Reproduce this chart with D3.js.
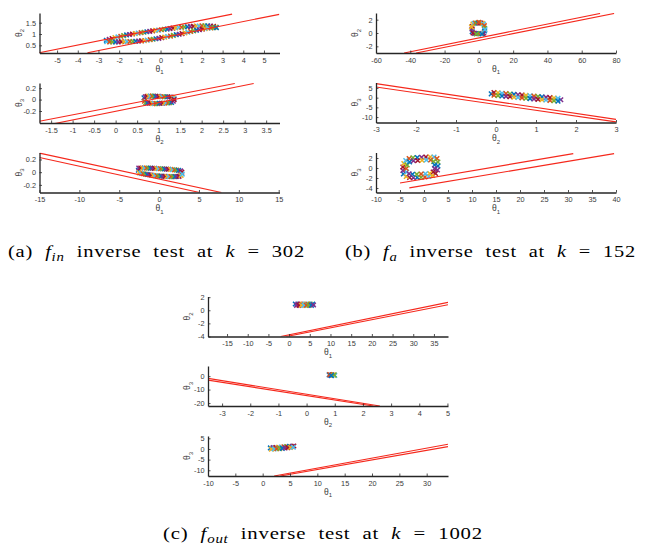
<!DOCTYPE html>
<html><head><meta charset="utf-8">
<script src="https://cdn.jsdelivr.net/npm/d3@7"></script>
<style>body{margin:0;background:#fff}svg{display:block}</style></head>
<body><svg id="c" width="654" height="549"></svg>
<script>
// ---------- DATA ----------
// (a) f_in, panel 1: theta1 vs theta2
const xDomA1 = [-5.85, 5.75], yDomA1 = [0.16, 1.93];
const xTicksA1 = [-5,-4,-3,-2,-1,0,1,2,3,4,5], yTicksA1 = [0.5,1,1.5];
const linesA1 = [[[-5.87,0.17],[3.46,1.88]], [[-3.53,0.17],[5.74,1.87]]];
const ptsA1 = [
 [-2.62,0.72],[-2.48,0.76],[-2.34,0.80],[-2.2,0.84],[-2.06,0.87],[-1.92,0.90],[-1.78,0.93],[-1.64,0.96],[-1.5,0.98],[-1.36,1.00],
 [-1.22,1.02],[-1.08,1.04],[-0.94,1.06],[-0.8,1.08],[-0.66,1.10],[-0.52,1.12],[-0.38,1.14],[-0.24,1.16],[-0.1,1.17],[0.04,1.19],
 [0.18,1.21],[0.32,1.22],[0.46,1.24],[0.6,1.26],[0.74,1.27],[0.88,1.29],[1.02,1.30],[1.16,1.31],[1.3,1.32],[1.44,1.33],
 [1.58,1.34],[1.72,1.35],[1.86,1.35],[2.0,1.36],[2.14,1.36],[2.28,1.36],[2.42,1.35],[2.56,1.34],[2.68,1.31],
 [-2.6,0.66],[-2.46,0.65],[-2.32,0.65],[-2.18,0.65],[-2.04,0.65],[-1.9,0.66],[-1.76,0.66],[-1.62,0.66],[-1.48,0.67],[-1.34,0.67],
 [-1.2,0.68],[-1.06,0.69],[-0.92,0.70],[-0.78,0.71],[-0.64,0.73],[-0.5,0.75],[-0.36,0.77],[-0.22,0.79],[-0.08,0.81],[0.06,0.84],
 [0.2,0.86],[0.34,0.89],[0.48,0.91],[0.62,0.94],[0.76,0.97],[0.9,0.99],[1.04,1.02],[1.18,1.05],[1.32,1.08],[1.46,1.11],
 [1.6,1.14],[1.74,1.17],[1.88,1.19],[2.02,1.22],[2.16,1.24],[2.3,1.26],[2.44,1.27],[2.58,1.28],[2.7,1.28]
];
// (a) panel 2: theta2 vs theta3
const xDomA2 = [-1.77, 3.81], yDomA2 = [-0.41, 0.29];
const xTicksA2 = [-1.5,-1,-0.5,0,0.5,1,1.5,2,2.5,3,3.5], yTicksA2 = [-0.2,0,0.2];
const linesA2 = [[[-1.77,-0.38],[2.77,0.28]], [[-1.55,-0.44],[3.21,0.28]]];
const ptsA2 = [
 [0.66,0.03],[0.69,0.05],[0.73,0.055],[0.77,0.06],[0.81,0.06],[0.85,0.06],[0.89,0.06],[0.93,0.055],[0.97,0.055],[1.01,0.055],
 [1.05,0.05],[1.09,0.05],[1.13,0.05],[1.17,0.05],[1.21,0.05],[1.25,0.045],[1.29,0.045],[1.33,0.035],[1.36,0.02],
 [0.67,-0.03],[0.7,-0.055],[0.74,-0.06],[0.78,-0.065],[0.82,-0.065],[0.86,-0.07],[0.9,-0.07],[0.94,-0.07],[0.98,-0.07],[1.02,-0.065],
 [1.06,-0.065],[1.1,-0.065],[1.14,-0.06],[1.18,-0.06],[1.22,-0.06],[1.26,-0.055],[1.3,-0.05],[1.34,-0.03],[1.36,0.0]
];
// (a) panel 3: theta1 vs theta3
const xDomA3 = [-15, 15.1], yDomA3 = [-0.32, 0.31];
const xTicksA3 = [-15,-10,-5,0,5,10,15], yTicksA3 = [-0.2,0,0.2];
const linesA3 = [[[-15,0.30],[7.82,-0.32]], [[-15,0.23],[5.09,-0.32]]];
const ptsA3 = [
 [-2.6,0.03],
 [-2.55,0.065],[-2.3,0.066],[-2.05,0.066],[-1.8,0.066],[-1.55,0.065],[-1.3,0.064],[-1.05,0.063],[-0.8,0.062],[-0.55,0.06],[-0.3,0.058],
 [-0.05,0.056],[0.2,0.054],[0.45,0.052],[0.7,0.05],[0.95,0.048],[1.2,0.046],[1.45,0.043],[1.7,0.04],[1.95,0.037],[2.2,0.033],
 [2.45,0.028],[2.7,0.02],[2.85,0.0],
 [-2.5,-0.01],[-2.25,-0.02],[-2.0,-0.025],[-1.75,-0.03],[-1.5,-0.035],[-1.25,-0.04],[-1.0,-0.045],[-0.75,-0.05],[-0.5,-0.053],[-0.25,-0.056],
 [0.0,-0.06],[0.25,-0.062],[0.5,-0.064],[0.75,-0.066],[1.0,-0.068],[1.25,-0.07],[1.5,-0.07],[1.75,-0.07],[2.0,-0.07],[2.25,-0.068],
 [2.5,-0.065],[2.75,-0.05],[2.9,-0.03]
];
// (b) f_a, panel 1
const xDomB1 = [-60, 80], yDomB1 = [-3, 3];
const xTicksB1 = [-60,-40,-20,0,20,40,60,80], yTicksB1 = [-2,0,2];
const linesB1 = [[[-43.6,-3],[70.7,2.93]], [[-36.6,-3],[78.9,2.93]]];
const ptsB1 = [
 [-3.9,0.2],[-4.0,0.6],[-3.9,1.0],[-3.5,1.35],[-2.8,1.45],[-2.0,1.5],[-1.2,1.5],[-0.4,1.5],[0.4,1.5],[1.2,1.5],
 [2.0,1.45],[2.7,1.35],[3.2,1.1],[3.4,0.7],[3.3,0.3],[2.9,0.0],[2.2,-0.07],[1.4,-0.08],[0.6,-0.08],[-0.2,-0.08],
 [-1.0,-0.08],[-1.8,-0.07],[-2.6,-0.05],[-3.4,0.0],[-4.3,0.9],[3.6,0.5],[0.0,1.6],[-1.5,-0.15],[1.8,-0.15]
];
// (b) panel 2
const xDomB2 = [-3, 3], yDomB2 = [-12.8, 7.8];
const xTicksB2 = [-3,-2,-1,0,1,2,3], yTicksB2 = [-10,-5,0,5];
const linesB2 = [[[-3,7.2],[3,-11.2]], [[-3,5.5],[3,-12.5]]];
const ptsB2 = [
 [-0.12,1.95],[1.62,-1.1],
 [-0.05,2.65],[0.05,2.46],[0.15,2.27],[0.25,2.08],[0.35,1.89],[0.45,1.7],[0.55,1.51],[0.65,1.32],[0.75,1.13],
 [0.85,0.94],[0.95,0.75],[1.05,0.56],[1.15,0.37],[1.25,0.18],[1.35,-0.02],[1.45,-0.21],[1.55,-0.4],
 [-0.05,1.25],[0.05,1.06],[0.15,0.87],[0.25,0.68],[0.35,0.49],[0.45,0.3],[0.55,0.11],[0.65,-0.09],[0.75,-0.28],
 [0.85,-0.47],[0.95,-0.66],[1.05,-0.85],[1.15,-1.04],[1.25,-1.23],[1.35,-1.42],[1.45,-1.61],[1.55,-1.8]
];
// (b) panel 3
const xDomB3 = [-10, 40], yDomB3 = [-4.9, 3.1];
const xTicksB3 = [-10,-5,0,5,10,15,20,25,30,35,40], yTicksB3 = [-4,-2,0,2];
const linesB3 = [[[-5,-3.0],[31.1,2.88]], [[-3.06,-3.98],[39.6,2.88]]];
const ptsB3 = [
 [-4.3,-1.2],[-4.4,-0.5],[-4.4,0.2],[-4.2,0.9],[-3.8,1.5],[-3.1,1.9],[-2.3,2.05],[-1.4,2.1],[-0.5,2.15],[0.4,2.2],
 [1.3,2.2],[2.1,2.2],[2.7,1.9],[2.9,1.2],[2.9,0.4],[2.8,-0.4],[2.4,-1.1],[1.8,-1.5],[1.0,-1.7],[0.2,-1.8],
 [-0.6,-1.85],[-1.4,-1.9],[-2.2,-1.95],[-3.0,-1.9],[-3.7,-1.7],
 [-3.6,-0.8],[-3.7,-0.1],[-3.5,0.6],[-3.0,1.2],[-2.2,1.45],[-1.3,1.5],[-0.4,1.55],[0.5,1.6],[1.4,1.6],[2.0,1.3],
 [2.2,0.6],[2.2,-0.1],[1.9,-0.8],[1.2,-1.1],[0.3,-1.15],[-0.6,-1.2],[-1.5,-1.25],[-2.4,-1.25],[-3.1,-1.15]
];
// (c) f_out, panel 1
const xDomC1 = [-19.6, 38.4], yDomC1 = [-4, 2.1];
const xTicksC1 = [-15,-10,-5,0,5,10,15,20,25,30,35], yTicksC1 = [-4,-2,0,2];
const linesC1 = [[[-2.03,-4],[38.4,1.2]], [[-0.65,-4],[38.4,0.85]]];
const ptsC1 = [
 [1.5,0.95],[2.1,0.95],[2.7,0.95],[3.3,0.95],[3.9,0.95],[4.5,0.95],[5.1,0.95],[5.7,0.95],
 [1.8,0.75],[2.4,0.75],[3.0,0.75],[3.6,0.75],[4.2,0.75],[4.8,0.75],[5.4,0.75],[5.9,0.8]
];
// (c) panel 2
const xDomC2 = [-3.5, 5.02], yDomC2 = [-22.2, 7.5];
const xTicksC2 = [-3,-2,-1,0,1,2,3,4,5], yTicksC2 = [-20,-10,0];
const linesC2 = [[[-3.5,-1.7],[2.6,-22.2]], [[-3.5,-3.0],[2.37,-22.2]]];
const ptsC2 = [[0.8,0.9],[0.85,0.6],[0.9,1.0],[0.95,0.7],[1.0,0.5],[0.82,1.2],[0.98,0.9],[0.88,0.4]];
// (c) panel 3
const xDomC3 = [-10, 33.9], yDomC3 = [-12.7, 6.1];
const xTicksC3 = [-10,-5,0,5,10,15,20,25,30], yTicksC3 = [-10,-5,0,5];
const linesC3 = [[[2.1,-12.7],[33.9,2.2]], [[3.2,-12.7],[33.9,1.1]]];
const ptsC3 = [
 [1.4,0.5],[1.9,0.6],[2.4,0.7],[2.9,0.8],[3.4,0.9],[3.9,1.0],[4.4,1.1],[4.9,1.2],[5.4,1.3],[5.7,1.4],
 [1.6,-0.1],[2.1,0.0],[2.6,0.1],[3.1,0.2],[3.6,0.3],[4.1,0.5],[4.6,0.6],[5.1,0.7],[5.6,0.8]
];
const markerColors = ['#0072BD','#D95319','#EDB120','#7E2F8E','#77AC30','#4DBEEE','#A2142F'];
const captionA = [['(a) ',0,0],['f',1,0],['in',1,1],[' inverse test at ',0,0],['k',1,0],[' = 302',0,0]];
const captionB = [['(b) ',0,0],['f',1,0],['a',1,1],[' inverse test at ',0,0],['k',1,0],[' = 152',0,0]];
const captionC = [['(c) ',0,0],['f',1,0],['out',1,1],[' inverse test at ',0,0],['k',1,0],[' = 1002',0,0]];

// ---------- DRAW ----------
const svg = d3.select('#c');
const W = 240, H = 40;
const panels = [
 {id:'A1', box:[39.5,13], xDom:xDomA1, yDom:yDomA1, xT:xTicksA1, yT:yTicksA1, xl:'1', yl:'2', lines:linesA1, pts:ptsA1},
 {id:'A2', box:[39.5,83], xDom:xDomA2, yDom:yDomA2, xT:xTicksA2, yT:yTicksA2, xl:'2', yl:'3', lines:linesA2, pts:ptsA2},
 {id:'A3', box:[39.5,152.5], xDom:xDomA3, yDom:yDomA3, xT:xTicksA3, yT:yTicksA3, xl:'1', yl:'3', lines:linesA3, pts:ptsA3},
 {id:'B1', box:[376,13], xDom:xDomB1, yDom:yDomB1, xT:xTicksB1, yT:yTicksB1, xl:'1', yl:'2', lines:linesB1, pts:ptsB1},
 {id:'B2', box:[376,82.5], xDom:xDomB2, yDom:yDomB2, xT:xTicksB2, yT:yTicksB2, xl:'2', yl:'3', lines:linesB2, pts:ptsB2},
 {id:'B3', box:[376,152.5], xDom:xDomB3, yDom:yDomB3, xT:xTicksB3, yT:yTicksB3, xl:'1', yl:'3', lines:linesB3, pts:ptsB3},
 {id:'C1', box:[208,296.5], xDom:xDomC1, yDom:yDomC1, xT:xTicksC1, yT:yTicksC1, xl:'1', yl:'2', lines:linesC1, pts:ptsC1},
 {id:'C2', box:[208,366], xDom:xDomC2, yDom:yDomC2, xT:xTicksC2, yT:yTicksC2, xl:'2', yl:'3', lines:linesC2, pts:ptsC2},
 {id:'C3', box:[208,436], xDom:xDomC3, yDom:yDomC3, xT:xTicksC3, yT:yTicksC3, xl:'1', yl:'3', lines:linesC3, pts:ptsC3}
];
const fmt = v => String(v);
const defs = svg.append('defs');

panels.forEach(p => {
  const [L,T] = p.box;
  const x = d3.scaleLinear().domain(p.xDom).range([L, L+W]);
  const y = d3.scaleLinear().domain(p.yDom).range([T+H, T]);
  defs.append('clipPath').attr('id','clip'+p.id).append('rect')
    .attr('x',L).attr('y',T).attr('width',W).attr('height',H);
  const g = svg.append('g');
  // scatter markers
  const a = 2.3;
  g.append('g').selectAll('path').data(p.pts).join('path')
    .attr('d', d => `M${x(d[0])-a},${y(d[1])-a}L${x(d[0])+a},${y(d[1])+a}M${x(d[0])-a},${y(d[1])+a}L${x(d[0])+a},${y(d[1])-a}`)
    .attr('stroke', (d,i) => markerColors[(i*3) % 7])
    .attr('stroke-width', 1.5).attr('fill','none');
  // red lines
  g.append('g').attr('clip-path', `url(#clip${p.id})`).selectAll('line').data(p.lines).join('line')
    .attr('x1', d => x(d[0][0])).attr('y1', d => y(d[0][1]))
    .attr('x2', d => x(d[1][0])).attr('y2', d => y(d[1][1]))
    .attr('stroke', '#f5281c').attr('stroke-width', 1.1);
  // axes
  const xa = d3.axisBottom(x).tickValues(p.xT).tickSizeInner(-2.5).tickSizeOuter(0).tickPadding(4.5).tickFormat(fmt);
  const ya = d3.axisLeft(y).tickValues(p.yT).tickSizeInner(-2.5).tickSizeOuter(0).tickPadding(3.5).tickFormat(fmt);
  const gx = g.append('g').attr('transform', `translate(0,${T+H})`).call(xa);
  const gy = g.append('g').attr('transform', `translate(${L},0)`).call(ya);
  [gx, gy].forEach(ax => {
    ax.select('.domain').attr('stroke', '#262626').attr('stroke-width', 1.3);
    ax.selectAll('.tick line').attr('stroke', '#262626').attr('stroke-width', 0.8);
    ax.selectAll('.tick text').attr('fill', '#3a3a3a').attr('font-family', 'Liberation Sans, Arial, sans-serif').attr('font-size', 7.3);
  });
  // axis labels
  const xlab = g.append('text').attr('x', L+W/2).attr('y', T+H+18.5).attr('text-anchor','middle')
    .attr('font-family','Liberation Sans, Arial, sans-serif').attr('font-size',8.5).attr('fill','#3a3a3a');
  xlab.append('tspan').text('θ');
  xlab.append('tspan').attr('font-size',6).attr('dy',2.5).text(p.xl);
  const ylab = g.append('text').attr('transform', `translate(${L-18},${T+H/2}) rotate(-90)`).attr('text-anchor','middle')
    .attr('font-family','Liberation Sans, Arial, sans-serif').attr('font-size',8.5).attr('fill','#3a3a3a');
  ylab.append('tspan').text('θ');
  ylab.append('tspan').attr('font-size',6).attr('dy',2.5).text(p.yl);
});

// captions: the reference's serif caption is wide, so spread and stretch it to its measured width
function caption(parts, x0, x1, baseline) {
  const fs = 16.5;
  const g = svg.append('g');
  const t = g.append('text').attr('x', 0).attr('y', 0)
    .attr('font-family', 'Liberation Serif, Times New Roman, serif').attr('font-size', fs).attr('fill', '#000')
    .attr('word-spacing', 5).attr('letter-spacing', 0.6);
  parts.forEach((pt, i) => {
    const s = t.append('tspan').text(pt[0]);
    if (pt[1]) s.attr('font-style', 'italic');
    if (pt[2]) s.attr('font-size', fs*0.72).attr('dy', fs*0.25);
    else if (i > 0 && parts[i-1][2]) s.attr('dy', -fs*0.25);
  });
  const w = t.node().getBBox().width;
  g.attr('transform', `translate(${x0},${baseline}) scale(${(x1 - x0) / w},1)`);
}
caption(captionA, 8, 305, 257);
caption(captionB, 345, 636, 257);
caption(captionC, 163, 483, 539);
</script>
</body></html>
